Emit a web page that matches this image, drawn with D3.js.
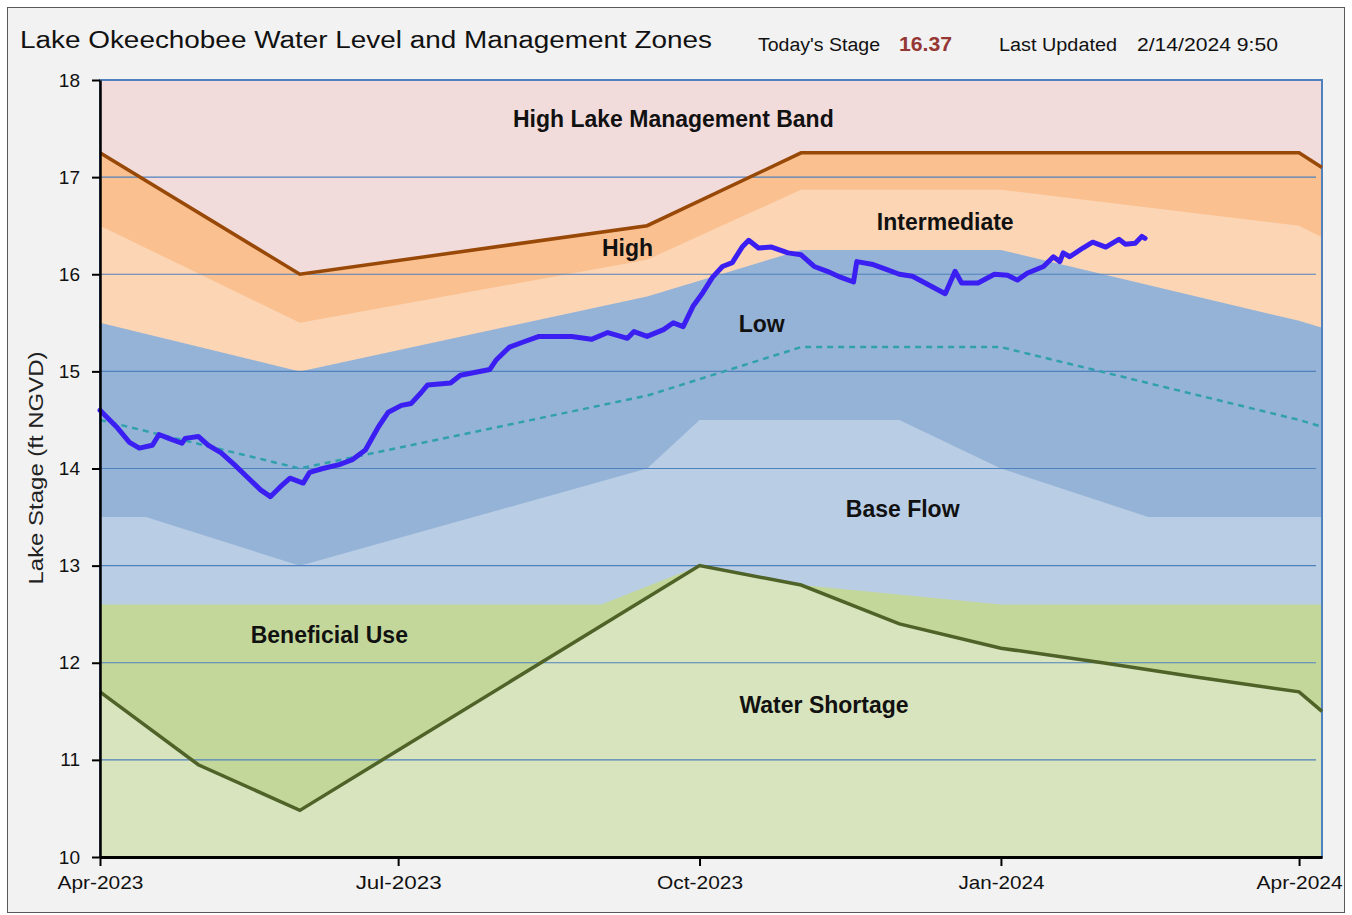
<!DOCTYPE html>
<html lang="en">
<head>
<meta charset="UTF-8">
<title>Lake Okeechobee Water Level and Management Zones</title>
<script src="https://d3js.org/d3.v7.min.js"></script>
<style>
    body {
        margin: 0;
        background: #fff;
    }
    svg text {
        font-family: "Liberation Sans", Arial, sans-serif;
    }
</style>
</head>
<body>
<div id="chart"></div>
<script>
// ---- data (dates as yyyy-mm-dd, stage in ft NGVD) ----
const yTicks = [10, 11, 12, 13, 14, 15, 16, 17, 18];
const xTickDates = ["2023-04-01", "2023-07-01", "2023-10-01", "2024-01-01", "2024-04-01"];
const xDomain = ["2023-04-01", "2024-04-08"];

// zone boundaries, top to bottom
const highLakeBand = [["2023-04-01", 17.25], ["2023-06-01", 16.0], ["2023-09-15", 16.5], ["2023-11-01", 17.25], ["2024-04-01", 17.25], ["2024-04-08", 17.1]];
const highTop = [["2023-04-01", 16.5], ["2023-06-01", 15.5], ["2023-09-15", 16.15], ["2023-11-01", 16.87], ["2024-01-01", 16.87], ["2024-04-01", 16.5], ["2024-04-08", 16.38]];
const intermediateTop = [["2023-04-01", 15.5], ["2023-06-01", 15.0], ["2023-09-15", 15.77], ["2023-11-01", 16.25], ["2024-01-01", 16.25], ["2024-04-01", 15.52], ["2024-04-08", 15.45]];
const baseFlowTop = [["2023-04-01", 13.5], ["2023-04-15", 13.5], ["2023-06-01", 13.0], ["2023-09-15", 14.0], ["2023-10-01", 14.5], ["2023-12-01", 14.5], ["2024-01-01", 14.0], ["2024-02-15", 13.5], ["2024-04-08", 13.5]];
const beneficialTop = [["2023-04-01", 12.6], ["2023-09-01", 12.6], ["2023-10-01", 13.0], ["2023-11-01", 12.8], ["2024-01-01", 12.6], ["2024-04-08", 12.6]];
const waterShortage = [["2023-04-01", 11.7], ["2023-05-01", 10.95], ["2023-06-01", 10.48], ["2023-10-01", 13.0], ["2023-11-01", 12.8], ["2023-12-01", 12.4], ["2024-01-01", 12.15], ["2024-02-01", 12.0], ["2024-03-01", 11.85], ["2024-04-01", 11.7], ["2024-04-08", 11.5]];
const lowMid = [["2023-04-01", 14.5], ["2023-06-01", 14.0], ["2023-09-15", 14.75], ["2023-11-01", 15.25], ["2024-01-01", 15.25], ["2024-04-01", 14.5], ["2024-04-08", 14.43]];

// daily lake stage
const stage = [
    ["2023-04-01", 14.60], ["2023-04-06", 14.43], ["2023-04-10", 14.27], ["2023-04-13", 14.21], ["2023-04-17", 14.24],
    ["2023-04-19", 14.35], ["2023-04-22", 14.31], ["2023-04-26", 14.26], ["2023-04-27", 14.31], ["2023-05-01", 14.33],
    ["2023-05-04", 14.24], ["2023-05-08", 14.16], ["2023-05-12", 14.04], ["2023-05-16", 13.91], ["2023-05-20", 13.78],
    ["2023-05-23", 13.71], ["2023-05-26", 13.81], ["2023-05-29", 13.90], ["2023-06-02", 13.85], ["2023-06-04", 13.96],
    ["2023-06-08", 14.00], ["2023-06-13", 14.04], ["2023-06-17", 14.09], ["2023-06-21", 14.19], ["2023-06-25", 14.43],
    ["2023-06-28", 14.58], ["2023-07-02", 14.65], ["2023-07-05", 14.67], ["2023-07-08", 14.78], ["2023-07-10", 14.86],
    ["2023-07-17", 14.88], ["2023-07-20", 14.96], ["2023-07-29", 15.02], ["2023-07-31", 15.12], ["2023-08-04", 15.25],
    ["2023-08-08", 15.30], ["2023-08-13", 15.36], ["2023-08-23", 15.36], ["2023-08-29", 15.33], ["2023-09-03", 15.40],
    ["2023-09-09", 15.34], ["2023-09-11", 15.41], ["2023-09-15", 15.36], ["2023-09-20", 15.43], ["2023-09-23", 15.50],
    ["2023-09-26", 15.46], ["2023-09-29", 15.67], ["2023-10-02", 15.81], ["2023-10-05", 15.97], ["2023-10-08", 16.08],
    ["2023-10-11", 16.12], ["2023-10-14", 16.28], ["2023-10-16", 16.35], ["2023-10-19", 16.27], ["2023-10-23", 16.28],
    ["2023-10-28", 16.22], ["2023-11-01", 16.20], ["2023-11-05", 16.08], ["2023-11-09", 16.03], ["2023-11-13", 15.97],
    ["2023-11-17", 15.92], ["2023-11-18", 16.13], ["2023-11-23", 16.10], ["2023-11-27", 16.05], ["2023-12-01", 16.00],
    ["2023-12-05", 15.98], ["2023-12-10", 15.89], ["2023-12-15", 15.80], ["2023-12-18", 16.03], ["2023-12-20", 15.91],
    ["2023-12-25", 15.91], ["2023-12-30", 16.00], ["2024-01-03", 15.99], ["2024-01-06", 15.94], ["2024-01-09", 16.01],
    ["2024-01-14", 16.08], ["2024-01-17", 16.18], ["2024-01-19", 16.13], ["2024-01-20", 16.22], ["2024-01-22", 16.18],
    ["2024-01-26", 16.27], ["2024-01-29", 16.33], ["2024-02-02", 16.28], ["2024-02-06", 16.36], ["2024-02-08", 16.31],
    ["2024-02-11", 16.32], ["2024-02-13", 16.39], ["2024-02-14", 16.37]
];

const zoneLabels = [
    ["High Lake Management Band", "2023-09-23", 17.6],
    ["High", "2023-09-09", 16.27],
    ["Intermediate", "2023-12-15", 16.54],
    ["Low", "2023-10-20", 15.49],
    ["Base Flow", "2023-12-02", 13.58],
    ["Beneficial Use", "2023-06-10", 12.29],
    ["Water Shortage", "2023-11-08", 11.57]
];

const todaysStage = "16.37";
const lastUpdated = "2/14/2024 9:50";

// ---- chart ----
const W = 1352, H = 915;
const plot = { left: 100, right: 1322, top: 80, bottom: 857 };
const parse = d3.timeParse("%Y-%m-%d");

const svg = d3.select("#chart").append("svg")
    .attr("width", W)
    .attr("height", H);

svg.append("rect")
    .attr("x", 7.5).attr("y", 7.5)
    .attr("width", 1337).attr("height", 905)
    .attr("fill", "#f2f2f2")
    .attr("stroke", "#595959");

const x = d3.scaleTime()
    .domain(xDomain.map(parse))
    .range([plot.left, plot.right]);

const y = d3.scaleLinear()
    .domain([10, 18])
    .range([plot.bottom, plot.top]);

// zone fills
svg.append("rect")
    .attr("x", plot.left).attr("y", plot.top)
    .attr("width", plot.right - plot.left)
    .attr("height", plot.bottom - plot.top)
    .attr("fill", "#f2dcdb");

const area = d3.area()
    .x(d => x(parse(d[0])))
    .y0(y(10))
    .y1(d => y(d[1]));

const zones = [
    [highLakeBand, "#fac090"],
    [highTop, "#fcd5b5"],
    [intermediateTop, "#95b3d7"],
    [baseFlowTop, "#b9cde5"],
    [beneficialTop, "#c4d79b"],
    [waterShortage, "#d7e4bd"]
];
zones.forEach(([data, color]) => {
    svg.append("path")
        .datum(data)
        .attr("fill", color)
        .attr("d", area);
});

// gridlines
svg.append("g")
    .selectAll("line")
    .data(yTicks.filter(t => t > 10 && t < 18))
    .join("line")
    .attr("x1", plot.left).attr("x2", plot.right - 6)
    .attr("y1", d => y(d)).attr("y2", d => y(d))
    .attr("stroke", "#4f81bd")
    .attr("stroke-width", 1.2);

// plot border (top / right in blue)
svg.append("rect")
    .attr("x", plot.left).attr("y", plot.top)
    .attr("width", plot.right - plot.left)
    .attr("height", plot.bottom - plot.top)
    .attr("fill", "none")
    .attr("stroke", "#4f81bd")
    .attr("stroke-width", 2);

const line = d3.line()
    .x(d => x(parse(d[0])))
    .y(d => y(d[1]));

svg.append("path")
    .datum(lowMid)
    .attr("fill", "none")
    .attr("stroke", "#31a0ad")
    .attr("stroke-width", 2.5)
    .attr("stroke-dasharray", "6,5")
    .attr("d", line);

svg.append("path")
    .datum(highLakeBand)
    .attr("fill", "none")
    .attr("stroke", "#984807")
    .attr("stroke-width", 3.5)
    .attr("d", line);

svg.append("path")
    .datum(waterShortage)
    .attr("fill", "none")
    .attr("stroke", "#4f6228")
    .attr("stroke-width", 3.5)
    .attr("d", line);

// zone labels
svg.append("g")
    .selectAll("text")
    .data(zoneLabels)
    .join("text")
    .attr("x", d => x(parse(d[1])))
    .attr("y", d => y(d[2]))
    .attr("text-anchor", "middle")
    .attr("dominant-baseline", "central")
    .attr("font-size", 23)
    .attr("font-weight", "bold")
    .attr("fill", "#111")
    .text(d => d[0]);

// lake stage
svg.append("path")
    .datum(stage)
    .attr("fill", "none")
    .attr("stroke", "#3b1ff2")
    .attr("stroke-width", 5)
    .attr("stroke-linejoin", "round")
    .attr("stroke-linecap", "round")
    .attr("d", line);

// axes
const yAxis = svg.append("g")
    .attr("transform", `translate(${plot.left},0)`)
    .call(d3.axisLeft(y).tickValues(yTicks).tickSize(8).tickSizeOuter(0).tickPadding(12).tickFormat(d3.format("d")));
yAxis.select(".domain").attr("stroke", "#000").attr("stroke-width", 2.5);
yAxis.selectAll(".tick line").attr("stroke", "#000").attr("stroke-width", 2);
yAxis.selectAll("text").attr("font-size", 19).attr("fill", "#111");

const xAxis = svg.append("g")
    .attr("transform", `translate(0,${plot.bottom})`)
    .call(d3.axisBottom(x).tickValues(xTickDates.map(parse)).tickSize(9).tickSizeOuter(0).tickPadding(10)
        .tickFormat(d3.timeFormat("%b-%Y")));
xAxis.select(".domain").attr("stroke", "#000").attr("stroke-width", 3);
xAxis.selectAll(".tick line").attr("stroke", "#000").attr("stroke-width", 2);
xAxis.selectAll("text")
    .attr("font-size", 19)
    .attr("fill", "#111")
    .attr("textLength", 86)
    .attr("lengthAdjust", "spacingAndGlyphs");

svg.append("text")
    .attr("transform", "translate(43,468) rotate(-90)")
    .attr("text-anchor", "middle")
    .attr("font-size", 20)
    .attr("fill", "#222")
    .attr("textLength", 233)
    .attr("lengthAdjust", "spacingAndGlyphs")
    .text("Lake Stage (ft NGVD)");

// header
svg.append("text")
    .attr("x", 20).attr("y", 48)
    .attr("font-size", 23)
    .attr("fill", "#111")
    .attr("textLength", 692)
    .attr("lengthAdjust", "spacingAndGlyphs")
    .text("Lake Okeechobee Water Level and Management Zones");

const header = [
    ["Today's Stage", 758, 122, "normal", "#111"],
    [todaysStage, 899, 53, "bold", "#953735"],
    ["Last Updated", 999, 118, "normal", "#111"],
    [lastUpdated, 1137, 141, "normal", "#111"]
];
svg.append("g")
    .selectAll("text")
    .data(header)
    .join("text")
    .attr("x", d => d[1]).attr("y", 51)
    .attr("font-size", d => d[3] === "bold" ? 20 : 18)
    .attr("font-family", d => d[3] === "bold" ? "Liberation Sans, Arial, sans-serif" : "'Open Sans', sans-serif")
    .attr("font-weight", d => d[3])
    .attr("fill", d => d[4])
    .attr("textLength", d => d[2])
    .attr("lengthAdjust", "spacingAndGlyphs")
    .text(d => d[0]);
</script>
</body>
</html>
